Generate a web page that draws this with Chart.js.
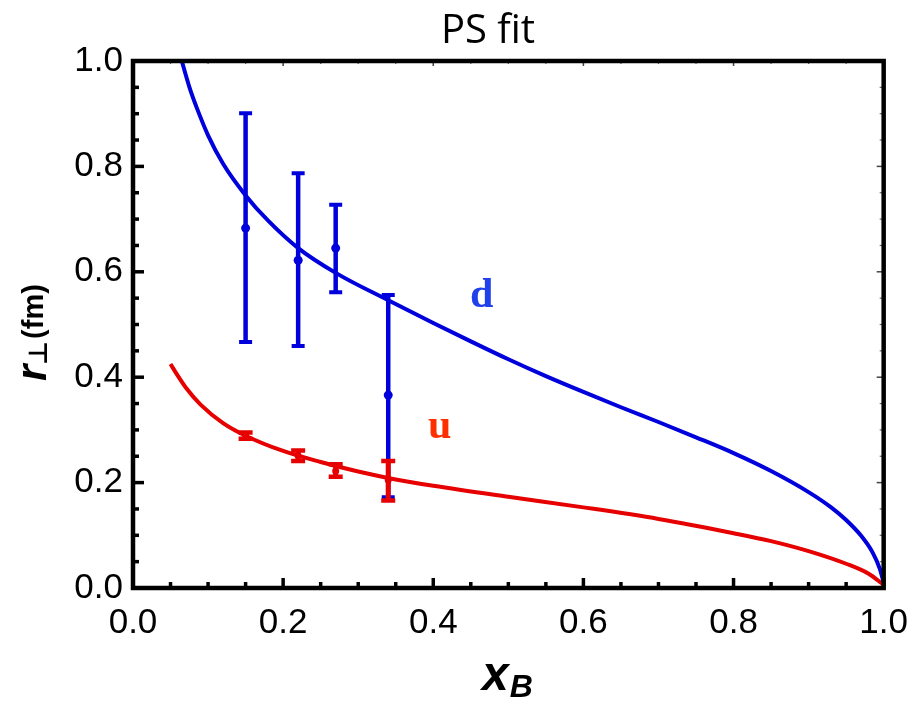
<!DOCTYPE html>
<html>
<head>
<meta charset="utf-8">
<script src="https://cdn.jsdelivr.net/npm/chart.js@4.4.0/dist/chart.umd.min.js"></script>
<style>
  html, body { margin: 0; padding: 0; background: #fff; }
</style>
</head>
<body>
<canvas id="chart" width="922" height="701"></canvas>
<script>
// fitted curves
const dCurveX = [0.065, 0.075, 0.085, 0.1, 0.12, 0.15, 0.18, 0.22, 0.27, 0.34, 0.4, 0.45, 0.5, 0.55, 0.6, 0.65, 0.7, 0.75, 0.8, 0.85, 0.9, 0.93, 0.95, 0.97, 0.985, 0.995, 1.0];
const dCurveY = [1.0, 0.951, 0.911, 0.859, 0.805, 0.745, 0.697, 0.645, 0.598, 0.546, 0.503, 0.468, 0.434, 0.402, 0.372, 0.343, 0.315, 0.286, 0.256, 0.222, 0.182, 0.153, 0.129, 0.099, 0.068, 0.036, 0.01];
const uCurveX = [0.05, 0.06, 0.07, 0.09, 0.12, 0.15, 0.2, 0.25, 0.3, 0.35, 0.4, 0.5, 0.6, 0.7, 0.8, 0.85, 0.9, 0.95, 0.98, 1.0];
const uCurveY = [0.425, 0.402, 0.381, 0.348, 0.313, 0.289, 0.260, 0.239, 0.221, 0.206, 0.194, 0.173, 0.153, 0.131, 0.104, 0.089, 0.070, 0.046, 0.027, 0.006];

// lattice points with error bars
const barX = [0.15, 0.22, 0.27, 0.34];
const dBarY = [0.683, 0.622, 0.645, 0.366];
const dBarLo = [0.467, 0.459, 0.561, 0.172];
const dBarHi = [0.901, 0.787, 0.727, 0.556];
const uBarY = [0.289, 0.251, 0.222, 0.205];
const uBarLo = [0.283, 0.241, 0.211, 0.166];
const uBarHi = [0.295, 0.261, 0.235, 0.241];

// axes
const majorTicks = [0.0, 0.2, 0.4, 0.6, 0.8, 1.0];
const minorTicks = [0.05, 0.1, 0.15, 0.25, 0.3, 0.35, 0.45, 0.5, 0.55, 0.65, 0.7, 0.75, 0.85, 0.9, 0.95];
const tickLabels = ['0.0', '0.2', '0.4', '0.6', '0.8', '1.0'];

const BLUE = '#0000dc';
const RED = '#e60000';

const toPoints = (xs, ys) => xs.map((x, i) => ({ x: x, y: ys[i] }));

// error bars drawn with the chart's scales
const errorBarPlugin = {
    id: 'errorBars',
    afterDatasetsDraw(chart) {
        const { ctx, scales: { x, y } } = chart;
        const drawBars = (ys, lo, hi, color, opt) => {
            ctx.save();
            ctx.strokeStyle = color;
            ctx.fillStyle = color;
            barX.forEach((xv, i) => {
                const px = x.getPixelForValue(xv);
                const pLo = y.getPixelForValue(lo[i]);
                const pHi = y.getPixelForValue(hi[i]);
                ctx.lineWidth = opt.bar;
                ctx.beginPath();
                ctx.moveTo(px, pLo);
                ctx.lineTo(px, pHi);
                ctx.stroke();
                ctx.lineWidth = opt.cap;
                ctx.beginPath();
                ctx.moveTo(px - opt.half, pLo); ctx.lineTo(px + opt.half, pLo);
                ctx.moveTo(px - opt.half, pHi); ctx.lineTo(px + opt.half, pHi);
                ctx.stroke();
                ctx.beginPath();
                ctx.arc(px, y.getPixelForValue(ys[i]), opt.dot, 0, Math.PI * 2);
                ctx.fill();
            });
            ctx.restore();
        };
        drawBars(dBarY, dBarLo, dBarHi, BLUE, { bar: 4.5, cap: 4, half: 6.5, dot: 4.5 });
        drawBars(uBarY, uBarLo, uBarHi, RED, { bar: 5, cap: 4.5, half: 7, dot: 3.5 });
    }
};

// mathematica-style frame with inward ticks
const framePlugin = {
    id: 'frame',
    afterDraw(chart) {
        const { ctx, chartArea: a, scales: { x, y } } = chart;
        ctx.save();
        const tick = (x1, y1, x2, y2, w, c) => {
            ctx.lineWidth = w;
            ctx.strokeStyle = c || '#000';
            ctx.beginPath();
            ctx.moveTo(x1, y1);
            ctx.lineTo(x2, y2);
            ctx.stroke();
        };
        majorTicks.forEach(v => {
            const px = x.getPixelForValue(v);
            const py = y.getPixelForValue(v);
            tick(px, a.bottom, px, a.bottom - 10, 3.5);
            tick(px, a.top, px, a.top + 5, 1.5, '#444');
            tick(a.left, py, a.left + 11, py, 3.5);
            tick(a.right, py, a.right - 7, py, 1.5, '#444');
        });
        minorTicks.forEach(v => {
            const px = x.getPixelForValue(v);
            const py = y.getPixelForValue(v);
            tick(px, a.bottom, px, a.bottom - 6, 3.5);
            tick(px, a.top, px, a.top + 3, 1.2, '#666');
            tick(a.left, py, a.left + 6, py, 3.5);
            tick(a.right, py, a.right - 4, py, 1.2, '#666');
        });
        ctx.lineWidth = 4.5;
        ctx.strokeStyle = '#000';
        ctx.strokeRect(a.left, a.top, a.right - a.left, a.bottom - a.top);
        ctx.restore();
    }
};

// title, curve labels and the two axis titles
const textPlugin = {
    id: 'texts',
    afterDraw(chart) {
        const { ctx } = chart;
        ctx.save();
        ctx.textBaseline = 'alphabetic';
        ctx.textAlign = 'center';
        ctx.fillStyle = '#000';
        ctx.font = '40px "Open Sans"';
        ctx.fillText('PS fit', 488, 43);

        ctx.textAlign = 'left';
        ctx.font = 'bold 42px "Liberation Serif"';
        ctx.fillStyle = '#1f40ea';
        ctx.fillText('d', 470, 307);
        ctx.fillStyle = '#ff3000';
        ctx.fillText('u', 428, 438);

        ctx.fillStyle = '#000';
        ctx.font = 'bold italic 48px "Liberation Sans"';
        ctx.fillText('x', 482, 690);
        const xw = ctx.measureText('x').width;
        ctx.font = 'bold italic 32px "Liberation Sans"';
        ctx.fillText('B', 482 + xw + 1, 697);

        ctx.translate(46, 381);
        ctx.rotate(-Math.PI / 2);
        ctx.font = 'bold italic 42px "Liberation Sans"';
        ctx.fillText('r', 0, 0);
        let off = ctx.measureText('r').width;
        ctx.font = 'bold 26px "DejaVu Sans"';
        ctx.fillText('\u22A5', off, 1);
        off += ctx.measureText('\u22A5').width + 2;
        ctx.font = 'bold 29px "Liberation Sans"';
        ctx.fillText('(fm)', off, -3);
        ctx.restore();
    }
};

const tickFont = { family: '"Liberation Sans", Arial, sans-serif', size: 35 };

new Chart(document.getElementById('chart'), {
    type: 'scatter',
    data: {
        datasets: [
            {
                label: 'd',
                data: toPoints(dCurveX, dCurveY),
                showLine: true,
                borderColor: BLUE,
                borderWidth: 4,
                pointRadius: 0,
                cubicInterpolationMode: 'monotone'
            },
            {
                label: 'u',
                data: toPoints(uCurveX, uCurveY),
                showLine: true,
                borderColor: RED,
                borderWidth: 4,
                pointRadius: 0,
                cubicInterpolationMode: 'monotone'
            }
        ]
    },
    options: {
        responsive: false,
        animation: false,
        layout: { padding: { top: 61, right: 34, left: 0, bottom: 0 } },
        plugins: {
            legend: { display: false },
            tooltip: { enabled: false },
            title: { display: false }
        },
        scales: {
            x: {
                type: 'linear',
                min: 0,
                max: 1,
                afterBuildTicks: s => { s.ticks = majorTicks.map(v => ({ value: v })); },
                afterFit: s => { s.height = 113; },
                grid: { display: false, drawTicks: false },
                border: { display: false },
                ticks: {
                    color: '#000',
                    font: tickFont,
                    padding: 14,
                    maxRotation: 0,
                    callback: (v, i) => tickLabels[i]
                }
            },
            y: {
                type: 'linear',
                min: 0,
                max: 1,
                afterBuildTicks: s => { s.ticks = majorTicks.map(v => ({ value: v })); },
                afterFit: s => { s.width = 133; },
                grid: { display: false, drawTicks: false },
                border: { display: false },
                ticks: {
                    color: '#000',
                    font: tickFont,
                    padding: 10,
                    callback: (v, i) => tickLabels[i]
                }
            }
        }
    },
    plugins: [errorBarPlugin, framePlugin, textPlugin]
});
</script>
</body>
</html>
